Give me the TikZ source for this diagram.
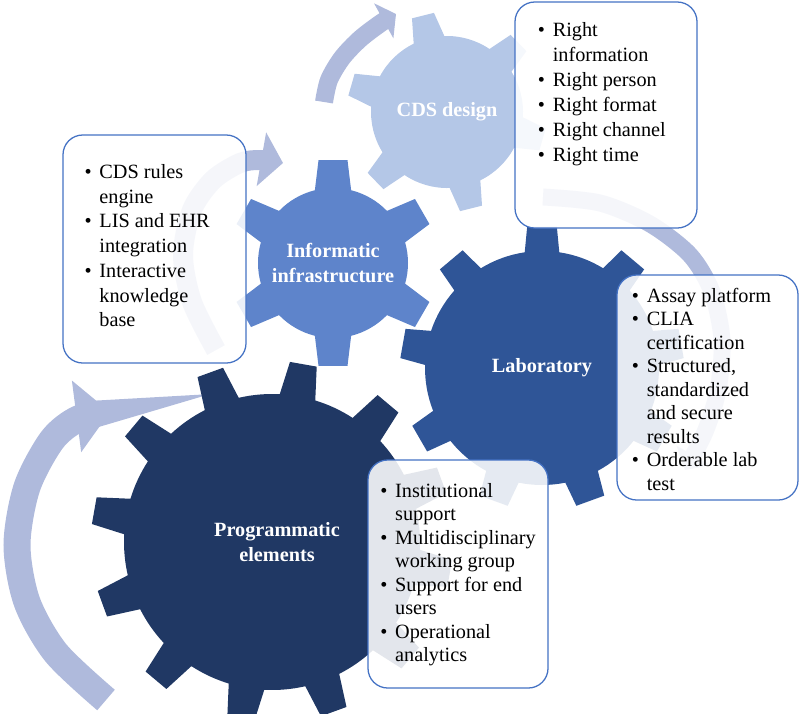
\documentclass[tikz,border=0pt]{standalone}
\usepackage{fontspec}
\setmainfont{Liberation Serif}
\usetikzlibrary{arrows.meta, fit}
\definecolor{cdsblue}{HTML}{B4C7E7}
\definecolor{infoblue}{HTML}{5E84CB}
\definecolor{labblue}{HTML}{2F5597}
\definecolor{progblue}{HTML}{203864}
\definecolor{ringblue}{HTML}{AFBADC}
\definecolor{edgeblue}{HTML}{4472C4}

% gear: centre, teeth, first tooth, root radius, tip radius, root half-angle, tip half-angle
\newcommand{\gear}[8]{%
  \fill[#1, shift={(#2)}] (#4-#7:#5)
    \foreach \k [evaluate=\k as \t using {#4+(\k-1)*360/#3}] in {1,...,#3}{
      -- (\t-#7:#5) -- (\t-#8:#6) -- (\t+#8:#6) -- (\t+#7:#5)
      arc[start angle=\t+#7, end angle=\t+360/#3-#7, radius=#5]
    } -- cycle;}
\newcommand{\bulletlist}[1]{\begin{tabular}[t]{@{}l@{\hspace{5.5pt}}l@{}}#1\end{tabular}}

\begin{document}
\begin{tikzpicture}[
    x=0.025cm, y=0.025cm,
    ring/.style={draw=ringblue, line cap=butt},
    infobox/.style={draw=edgeblue, line width=0.9pt, rounded corners=14pt, fill=white, fill opacity=0.88, inner sep=0pt},
    boxtext/.style={anchor=base west, inner sep=0pt},
    gearlabel/.style={text=white, font=\fontsize{14.4}{17.8}\selectfont\bfseries, align=center}
]
    \useasboundingbox (0,0) rectangle (800,-713);

    % Circular arrows
    \draw[ring, line width=12.8pt, -{Triangle[width=28pt, length=10pt]}] plot[smooth] coordinates {(324,-102) (329,-80) (342,-58) (360,-39) (381,-23) (396,-14)};
    \draw[ring, line width=14.2pt, -{Triangle[width=38pt, length=15.6pt]}] plot[smooth] coordinates {(216,-350) (192,-302) (183,-255) (192,-210) (213,-180) (240,-163) (260,-160) (283,-163)};
    \draw[ring, line width=12pt, -{Triangle[width=27pt, length=12pt]}] plot[smooth] coordinates {(543,-197) (600,-203) (650,-224) (690,-255) (712,-292) (722,-340) (718,-390) (705,-432) (685,-470)};
    \draw[ring, line width=19.2pt, -{Triangle[width=50pt, length=24pt]}] plot[smooth] coordinates {(106,-700) (56,-653) (27,-602) (17,-545) (27,-487) (52,-440) (78,-419) (110,-412)};

    % Gears
    \gear{cdsblue}{447,-112}{6}{104}{76}{100}{12}{6.5}
    \gear{infoblue}{333,-263}{6}{90}{75}{104}{14}{8}
    \gear{labblue}{542,-368}{9}{90}{117}{142}{8.5}{6}
    \gear{progblue}{272,-542}{12}{20}{148}{181}{7}{4.3}

    \node[gearlabel] (cds) at (447,-112) {CDS design};
    \node[gearlabel] (info) at (333,-263) {Informatic\\infrastructure};
    \node[gearlabel] (lab) at (542,-368) {Laboratory};
    \node[gearlabel] (prog) at (277,-542) {Programmatic\\elements};

    % Boxes
    \node[infobox, fit={(63,-135) (246,-363)}] (infobox) {};
    \node[infobox, fit={(515,-2) (697,-228)}] (cdsbox) {};
    \node[infobox, fit={(617,-275) (798,-500)}] (labbox) {};
    \node[infobox, fit={(368,-460) (548,-688)}] (progbox) {};

    \node[boxtext, font=\fontsize{14.4}{17.6}\selectfont] (infotext) at ([shift={(22,-44)}]infobox.north west)
        {\bulletlist{\textbullet & CDS rules\\ & engine\\ \textbullet & LIS and EHR\\ & integration\\ \textbullet & Interactive\\ & knowledge\\ & base}};
    \node[boxtext, font=\fontsize{14.4}{17.8}\selectfont] (cdstext) at ([shift={(23.3,-35)}]cdsbox.north west)
        {\bulletlist{\textbullet & Right\\ & information\\ \textbullet & Right person\\ \textbullet & Right format\\ \textbullet & Right channel\\ \textbullet & Right time}};
    \node[boxtext, font=\fontsize{14.4}{16.7}\selectfont] (labtext) at ([shift={(15.3,-28)}]labbox.north west)
        {\bulletlist{\textbullet & Assay platform\\ \textbullet & CLIA\\ & certification\\ \textbullet & Structured,\\ & standardized\\ & and secure\\ & results\\ \textbullet & Orderable lab\\ & test}};
    \node[boxtext, font=\fontsize{14.4}{16.7}\selectfont] (progtext) at ([shift={(12.7,-38)}]progbox.north west)
        {\bulletlist{\textbullet & Institutional\\ & support\\ \textbullet & Multidisciplinary\\ & working group\\ \textbullet & Support for end\\ & users\\ \textbullet & Operational\\ & analytics}};
\end{tikzpicture}
\end{document}
